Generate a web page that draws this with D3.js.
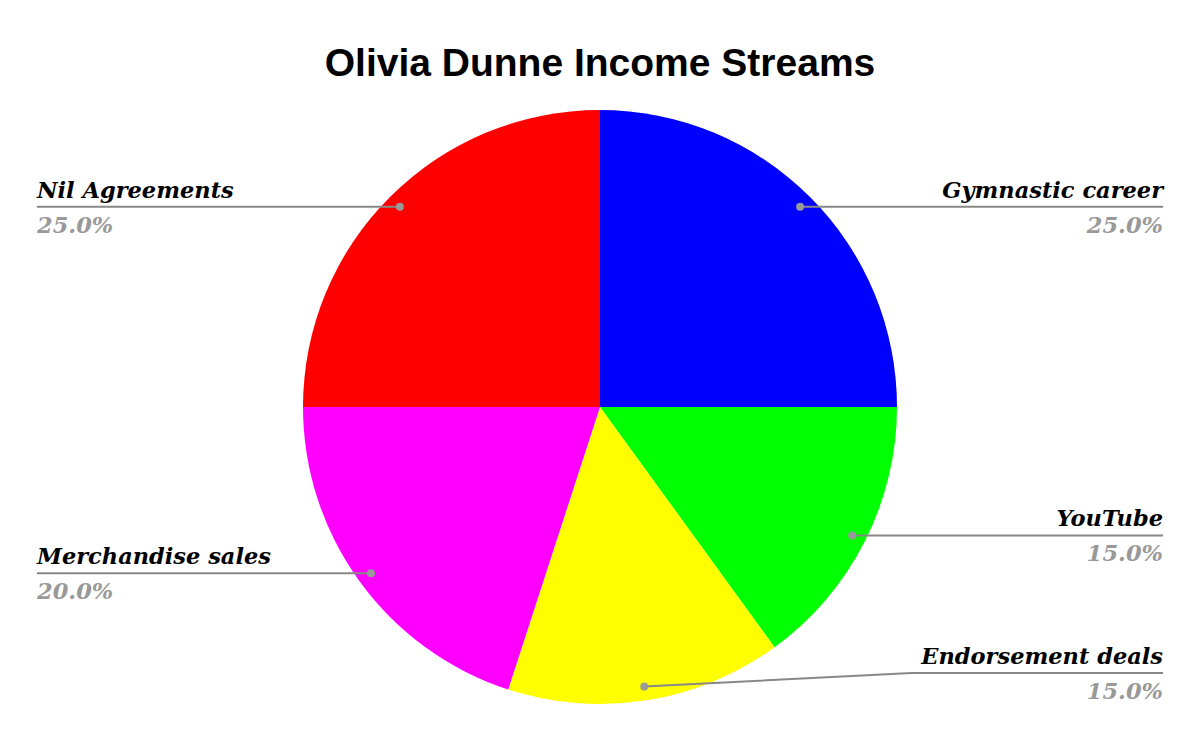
<!DOCTYPE html>
<html>
<head>
<meta charset="utf-8">
<script src="https://cdn.jsdelivr.net/npm/d3@7"></script>
<style>
  body { margin: 0; background: #fff; }
</style>
</head>
<body>
<div id="chart"></div>
<script>
var categories = ["Gymnastic career", "YouTube", "Endorsement deals", "Merchandise sales", "Nil Agreements"];
var values = [25, 15, 15, 20, 25];
var colors = ["#0000ff", "#00ff00", "#ffff00", "#ff00ff", "#ff0000"];

var width = 1200, height = 742;
var cx = 600, cy = 407, radius = 297;
var leftX = 37, rightX = 1163;

var svg = d3.select("#chart")
    .append("svg")
    .attr("width", width)
    .attr("height", height);

// Title
svg.append("text")
    .attr("x", width / 2)
    .attr("y", 76)
    .attr("text-anchor", "middle")
    .attr("font-family", "Liberation Sans, Arial, sans-serif")
    .attr("font-weight", "bold")
    .attr("font-size", "39px")
    .attr("fill", "#000")
    .text("Olivia Dunne Income Streams");

var data = categories.map(function (c, i) {
    return {name: c, value: values[i], color: colors[i]};
});

var pie = d3.pie().sort(null).value(d => d.value);
var arcs = pie(data);
var arc = d3.arc().innerRadius(0).outerRadius(radius);
var total = d3.sum(values);

var g = svg.append("g")
    .attr("transform", "translate(" + cx + "," + cy + ")");

g.selectAll("path")
    .data(arcs)
    .enter()
    .append("path")
    .attr("d", arc)
    .attr("fill", d => d.data.color);

// Labels
var dotR = radius * 0.953;
var labelFont = "DejaVu Serif, Georgia, serif";

arcs.forEach(function (d) {
    var mid = (d.startAngle + d.endAngle) / 2;
    var px = cx + Math.sin(mid) * dotR,
        py = cy - Math.cos(mid) * dotR;
    var right = Math.sin(mid) >= 0;
    var ly = Math.min(py, height - 69);
    var ex = right ? rightX : leftX;
    var pts = [[px, py]];
    if (ly !== py) pts.push([px + (ex - px) * 0.515, ly]);
    pts.push([ex, ly]);

    svg.append("path")
        .attr("d", d3.line()(pts))
        .attr("fill", "none")
        .attr("stroke", "#888")
        .attr("stroke-width", 2);

    svg.append("circle")
        .attr("cx", px)
        .attr("cy", py)
        .attr("r", 4)
        .attr("fill", "#999");

    svg.append("text")
        .attr("x", ex)
        .attr("y", ly - 9)
        .attr("text-anchor", right ? "end" : "start")
        .attr("font-family", labelFont)
        .attr("font-style", "italic")
        .attr("font-weight", "bold")
        .attr("font-size", "22.5px")
        .attr("fill", "#000")
        .text(d.data.name);

    svg.append("text")
        .attr("x", ex)
        .attr("y", ly + 26)
        .attr("text-anchor", right ? "end" : "start")
        .attr("font-family", labelFont)
        .attr("font-style", "italic")
        .attr("font-weight", "bold")
        .attr("font-size", "22.5px")
        .attr("fill", "#999")
        .text((d.data.value / total * 100).toFixed(1) + "%");
});
</script>
</body>
</html>
